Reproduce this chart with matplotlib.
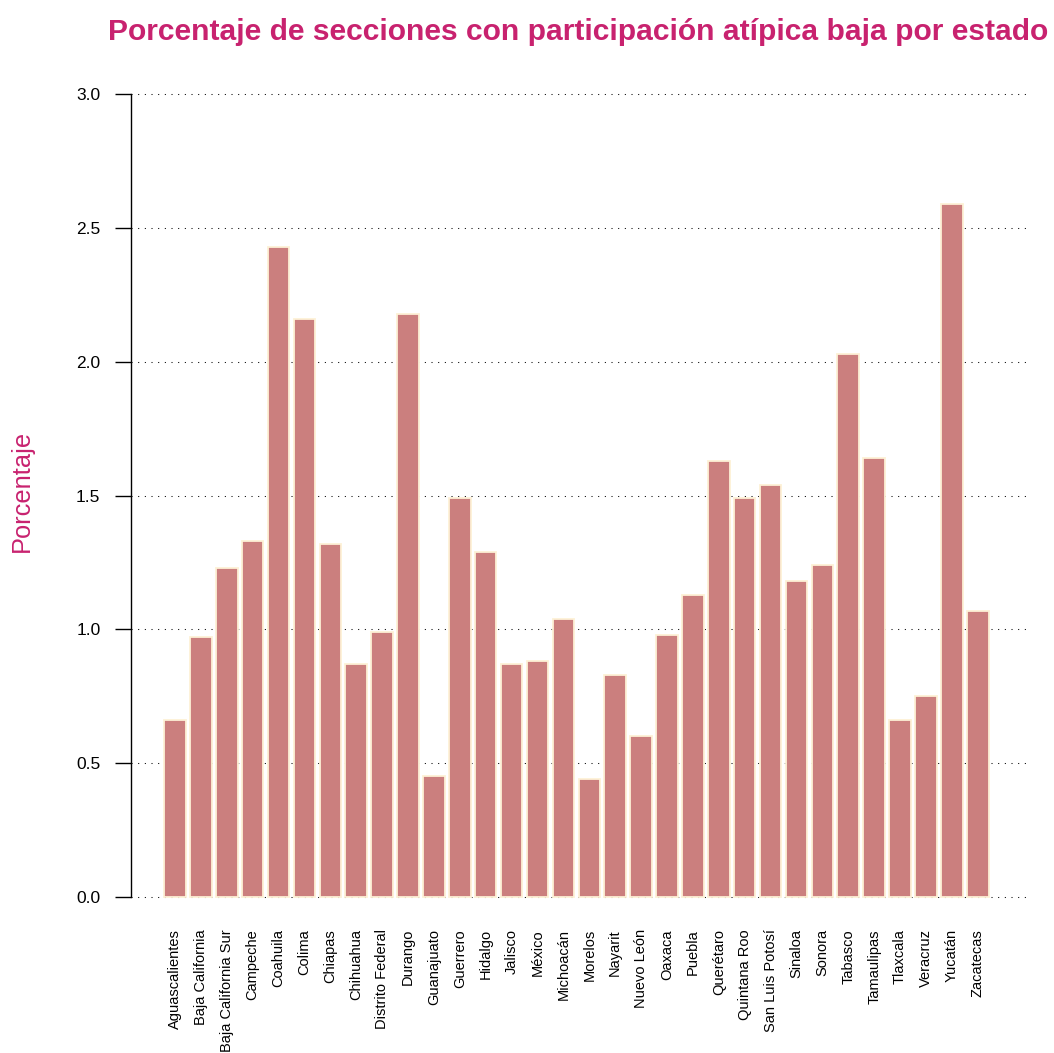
import matplotlib
matplotlib.use("Agg")
import matplotlib.pyplot as plt
import numpy as np

estados = ["Aguascalientes", "Baja California", "Baja California Sur", "Campeche",
           "Coahuila", "Colima", "Chiapas", "Chihuahua", "Distrito Federal", "Durango",
           "Guanajuato", "Guerrero", "Hidalgo", "Jalisco", "México", "Michoacán",
           "Morelos", "Nayarit", "Nuevo León", "Oaxaca", "Puebla", "Querétaro",
           "Quintana Roo", "San Luis Potosí", "Sinaloa", "Sonora", "Tabasco",
           "Tamaulipas", "Tlaxcala", "Veracruz", "Yucatán", "Zacatecas"]
porcentaje = [0.66, 0.97, 1.23, 1.33, 2.43, 2.16, 1.32, 0.87, 0.99, 2.18,
              0.45, 1.49, 1.29, 0.87, 0.88, 1.04, 0.44, 0.83, 0.60, 0.98,
              1.13, 1.63, 1.49, 1.54, 1.18, 1.24, 2.03, 1.64, 0.66, 0.75,
              2.59, 1.07]
yticks = [0.0, 0.5, 1.0, 1.5, 2.0, 2.5, 3.0]

title_color = "#C8226F"
bar_color = "#CB7F7E"
edge_color = "#FDF1D6"

plt.rcParams['font.family'] = ['Liberation Sans', 'DejaVu Sans']

W, H = 1054, 1053
fig = plt.figure(figsize=(W / 100, H / 100), dpi=100)
left, right, top, bottom = 131, 1026, 62, 929
ax = fig.add_axes([left / W, 1 - bottom / H, (right - left) / W, (bottom - top) / H])

# R barplot geometry: width 1, space 0.2
n = len(porcentaje)
x = 0.2 + np.arange(n) * 1.2 + 0.5
span = (0.2, 0.2 + n * 1.2)
pad = 0.04 * (span[1] - span[0])
ax.set_xlim(span[0] - pad, span[1] + pad)
ax.set_ylim(-0.12, 3.12)

for yv in yticks:
    ax.axhline(yv, color="black", linewidth=0.75, linestyle=(0, (1, 5.4)), zorder=1)

ax.bar(x, porcentaje, width=1.0, color=bar_color, edgecolor=edge_color,
       linewidth=1.3, zorder=2)

for s in ["top", "right", "bottom"]:
    ax.spines[s].set_visible(False)
ax.spines["left"].set_bounds(0, 3)
ax.spines["left"].set_linewidth(1.0)

ax.set_yticks(yticks)
ax.set_yticklabels([f"{v:.1f}" for v in yticks], fontsize=12.5)
ax.tick_params(axis="y", length=11.5, width=1.0, pad=10.5, direction="out")

ax.set_xticks(x)
ax.set_xticklabels(estados, rotation=90, fontsize=10.5, va="top", ha="center")
ax.tick_params(axis="x", length=0, pad=0)

ax.set_ylabel("Porcentaje", fontsize=18.3, color=title_color, labelpad=0)
ax.yaxis.set_label_coords(-(131 - 34) / (right - left), 0.505)

fig.text((left + right) / 2 / W, 1 - 40 / H,
         "Porcentaje de secciones con participación atípica baja por estado",
         ha="center", va="baseline", fontsize=21.6, fontweight="bold", color=title_color)

fig.savefig("out.png", dpi=100)
